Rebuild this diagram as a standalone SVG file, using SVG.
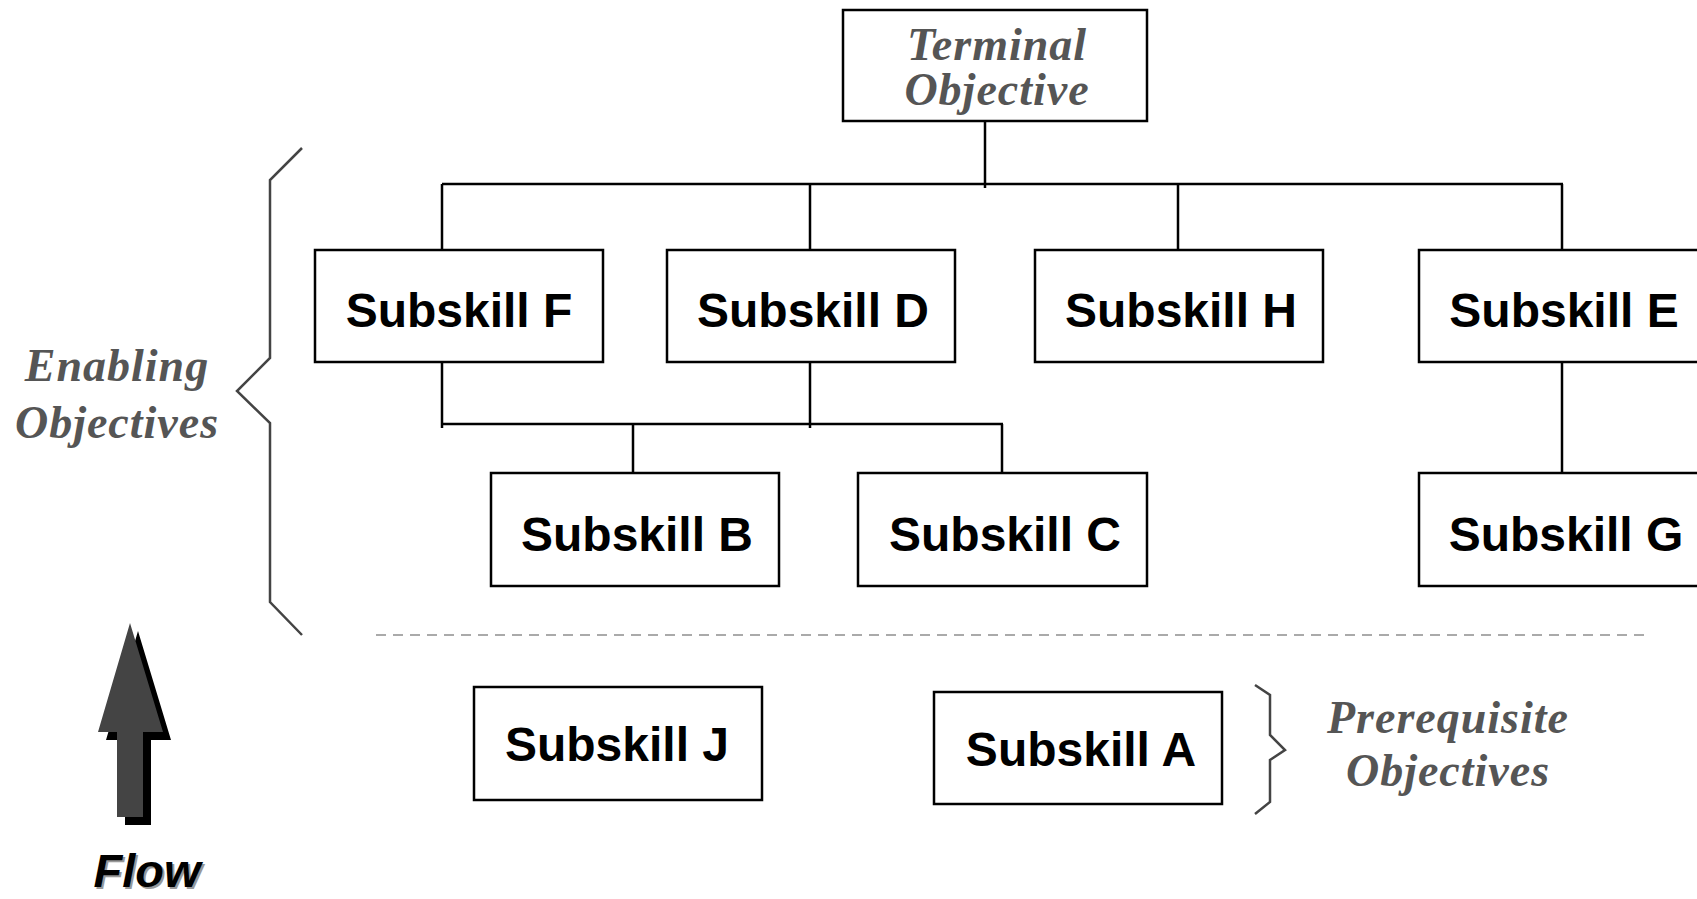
<svg xmlns="http://www.w3.org/2000/svg" width="1697" height="899" viewBox="0 0 1697 899">
  <style>
    .box { fill: #fff; stroke: #000; stroke-width: 2.5; }
    .skill { font-family: "Liberation Sans", Arial, sans-serif; font-weight: bold; font-size: 48px; fill: #000; text-anchor: middle; }
    .obj { font-family: "Liberation Serif", "Times New Roman", serif; font-weight: bold; font-style: italic; font-size: 46px; fill: #555; text-anchor: middle; letter-spacing: 1px; }
    .wire { fill: none; stroke: #000; stroke-width: 2.5; }
    .brace { fill: none; stroke: #444; stroke-width: 2.5; }
    .flowtxt { font-family: "Liberation Sans", Arial, sans-serif; font-weight: bold; font-style: italic; font-size: 47px; text-anchor: middle; }
  </style>

  <!-- tree connectors -->
  <g id="connectors" class="wire">
    <path d="M985 121 V188"/>
    <path d="M442 184 H1563"/>
    <path d="M442 184 V249 M810 184 V249 M1178 184 V249 M1562 184 V249"/>
    <path d="M442 361 V428 M810 361 V428"/>
    <path d="M442 424 H1003"/>
    <path d="M633 424 V473 M1002 424 V473"/>
    <path d="M1562 361 V473"/>
  </g>

  <g id="terminal">
    <rect class="box" x="843" y="10" width="304" height="111"/>
    <text class="obj" x="997" y="60">Terminal</text>
    <text class="obj" x="997" y="105">Objective</text>
  </g>

  <g id="subskill-f">
    <rect class="box" x="315" y="250" width="288" height="112"/>
    <text class="skill" x="459" y="327">Subskill F</text>
  </g>
  <g id="subskill-d">
    <rect class="box" x="667" y="250" width="288" height="112"/>
    <text class="skill" x="813" y="327">Subskill D</text>
  </g>
  <g id="subskill-h">
    <rect class="box" x="1035" y="250" width="288" height="112"/>
    <text class="skill" x="1181" y="327">Subskill H</text>
  </g>
  <g id="subskill-e">
    <rect class="box" x="1419" y="250" width="290" height="112"/>
    <text class="skill" x="1564" y="327">Subskill E</text>
  </g>
  <g id="subskill-b">
    <rect class="box" x="491" y="473" width="288" height="113"/>
    <text class="skill" x="637" y="551">Subskill B</text>
  </g>
  <g id="subskill-c">
    <rect class="box" x="858" y="473" width="289" height="113"/>
    <text class="skill" x="1005" y="551">Subskill C</text>
  </g>
  <g id="subskill-g">
    <rect class="box" x="1419" y="473" width="290" height="113"/>
    <text class="skill" x="1566" y="551">Subskill G</text>
  </g>

  <!-- boundary between enabling and prerequisite skills -->
  <path id="boundary" d="M376 635 H1647" fill="none" stroke="#aaa" stroke-width="2" stroke-dasharray="10 7"/>

  <g id="subskill-j">
    <rect class="box" x="474" y="687" width="288" height="113"/>
    <text class="skill" x="617" y="761">Subskill J</text>
  </g>
  <g id="subskill-a">
    <rect class="box" x="934" y="692" width="288" height="112"/>
    <text class="skill" x="1081" y="766">Subskill A</text>
  </g>

  <!-- enabling objectives brace and label -->
  <g id="enabling">
    <path class="brace" d="M302 148 L270 180 V358 L237 391 L270 423 V602 L302 635"/>
    <text class="obj" x="117" y="381">Enabling</text>
    <text class="obj" x="117" y="438">Objectives</text>
  </g>

  <!-- prerequisite objectives brace and label -->
  <g id="prerequisite">
    <path class="brace" d="M1255 685 L1270 695 V735 L1285 750 L1270 760 V802 L1255 814"/>
    <text class="obj" x="1448" y="733">Prerequisite</text>
    <text class="obj" x="1448" y="786">Objectives</text>
  </g>

  <!-- flow arrow with drop shadow -->
  <g id="flow">
    <path d="M138 631 L171 740 H151 V825 H125 V740 H106 Z" fill="#000"/>
    <path d="M130 623 L163 732 H143 V817 H117 V732 H98 Z" fill="#444"/>
    <text class="flowtxt" x="149" y="889" fill="#999">Flow</text>
    <text class="flowtxt" x="147" y="887" fill="#000">Flow</text>
  </g>
</svg>
